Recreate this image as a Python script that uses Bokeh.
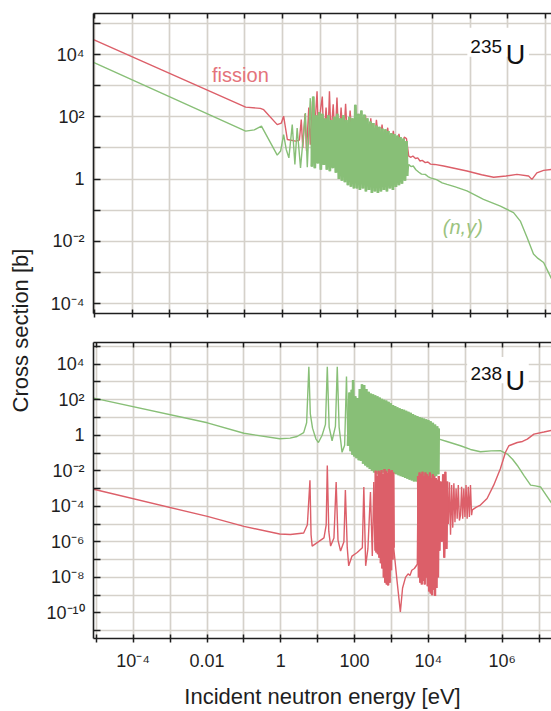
import numpy as np
from bokeh.plotting import figure
from bokeh.layouts import row, column
from bokeh.models import Range1d, FixedTicker, CustomJSTickFormatter, LogAxis
from bokeh.core.properties import value
from bokeh.embed import file_html
from bokeh.resources import INLINE

# ---------------- data: log10(energy / eV) and log10(cross section / b)
# U-235 fission
U235_FIS_PRE_LOGE = [-5.03, -0.98, -0.59, -0.50, -0.14, -0.03, 0.03, 0.13, 0.35, 0.45]
U235_FIS_PRE_LOGXS = [4.48, 2.31, 2.27, 2.23, 1.75, 1.80, 2.02, 1.27, 1.22, 1.25]
U235_FIS_RES_LOGE = [0.50, 0.54, 0.60, 0.64, 0.70, 0.74, 0.80, 0.84, 0.92, 0.96,
                     1.01, 1.06, 1.10, 1.16, 1.21, 1.25, 1.29, 1.35, 1.40, 1.45,
                     1.50, 1.56, 1.62, 1.68, 1.74, 1.80, 1.87, 1.94, 2.00, 2.07,
                     2.14, 2.21, 2.28, 2.35, 2.42, 2.50, 2.58, 2.65, 2.72, 2.80,
                     2.87, 2.95, 3.02, 3.10, 3.17, 3.24, 3.30]
U235_FIS_RES_LOGXS = [1.91, 1.0, 2.1, 0.9, 2.3, 1.1, 2.5, 1.2, 2.82, 1.3,
                      2.2, 2.65, 1.2, 2.3, 1.3, 2.82, 1.4, 2.4, 1.2, 2.62,
                      1.2, 2.3, 1.1, 2.42, 1.0, 2.2, 1.0, 2.32, 0.9, 2.1,
                      0.9, 2.05, 0.9, 1.95, 0.9, 1.9, 0.9, 1.75, 0.9, 1.65,
                      0.9, 1.55, 0.9, 1.45, 0.9, 1.35, 1.3]
U235_FIS_POST_LOGE = [3.36, 3.42, 3.47, 3.54, 3.60, 3.66, 3.72, 3.80, 3.87, 3.94,
                      4.05, 4.29, 4.60, 4.91, 5.30, 5.62, 5.95, 6.24, 6.55, 6.64, 6.77, 6.95, 7.16]
U235_FIS_POST_LOGXS = [0.74, 0.70, 0.74, 0.66, 0.68, 0.58, 0.60, 0.53, 0.55, 0.48,
                       0.47, 0.42, 0.34, 0.26, 0.14, 0.06, 0.10, 0.15, 0.10, -0.01, 0.20, 0.28, 0.31]

# U-235 radiative capture (n,gamma)
U235_CAP_PRE_LOGE = [-5.03, -0.98, -0.75, -0.56, -0.14, -0.05, 0.03, 0.10, 0.17, 0.26,
                     0.33, 0.39, 0.48, 0.61, 0.66, 0.74]
U235_CAP_PRE_LOGXS = [3.75, 1.54, 1.58, 1.70, 0.77, 0.90, 1.43, 0.95, 0.68, 1.75,
                      0.47, 1.64, 0.36, 2.12, 0.38, 2.6]
U235_CAP_RES_LOGE = [0.78, 0.82, 0.86, 0.90, 0.94, 0.98, 1.02, 1.06, 1.10, 1.14,
                     1.18, 1.22, 1.26, 1.30, 1.34, 1.38, 1.42, 1.46, 1.50, 1.54,
                     1.58, 1.62, 1.66, 1.70, 1.74, 1.78, 1.82, 1.86, 1.90, 1.94,
                     1.98, 2.02, 2.06, 2.10, 2.14, 2.18, 2.22, 2.26, 2.30, 2.34,
                     2.38, 2.42, 2.46, 2.50, 2.54, 2.58, 2.62, 2.66, 2.70, 2.74,
                     2.78, 2.82, 2.86, 2.90, 2.94, 2.98, 3.02, 3.06, 3.10, 3.14,
                     3.18, 3.22, 3.26, 3.30, 3.32]
U235_CAP_RES_LOGXS = [0.40, 2.65, 0.35, 2.05, 0.50, 2.15, 0.30, 2.10, 0.45, 1.95,
                      0.30, 2.05, 0.25, 1.90, 0.35, 2.00, 0.20, 2.10, 0.00, 1.95,
                      -0.05, 2.05, -0.10, 1.90, -0.20, 2.00, -0.25, 1.95, -0.30, 2.39,
                      -0.30, 2.10, -0.35, 2.20, -0.30, 2.07, -0.40, 1.95, -0.35, 1.85,
                      -0.45, 1.80, -0.40, 1.72, -0.45, 1.68, -0.40, 1.62, -0.35, 1.60,
                      -0.40, 1.54, -0.30, 1.48, -0.35, 1.45, -0.25, 1.40, -0.20, 1.35,
                      -0.15, 1.30, -0.05, 1.22, 0.10]
U235_CAP_POST_LOGE = [3.36, 3.42, 3.48, 3.55, 3.63, 3.70, 3.80, 3.87, 3.94, 4.10,
                      4.25, 4.38, 4.60, 4.91, 5.35, 5.80, 6.15, 6.33, 6.51, 6.68, 6.80, 6.95, 7.16]
U235_CAP_POST_LOGXS = [0.47, 0.40, 0.42, 0.30, 0.22, 0.16, 0.15, 0.08, 0.04, -0.02,
                       -0.12, -0.17, -0.25, -0.38, -0.65, -0.87, -1.08, -1.35, -1.88, -2.41, -2.55, -2.68, -3.2]

# U-238 radiative capture (n,gamma)
U238_CAP_PRE_LOGE = [-5.07, -1.99, -1.00, -0.03, 0.25, 0.44, 0.62, 0.70, 0.76, 0.80,
                     0.86, 0.95, 1.02, 1.12, 1.21, 1.26, 1.31, 1.39, 1.48, 1.53,
                     1.58, 1.66, 1.73, 1.78]
U238_CAP_PRE_LOGXS = [2.09, 0.70, 0.11, -0.20, -0.16, -0.07, 0.15, 0.70, 3.85, 1.20,
                      0.40, -0.20, -0.41, 0.00, 0.61, 3.85, 0.46, -0.31, 0.50, 3.85,
                      0.46, -0.96, -0.56, 3.30]
U238_CAP_RES_LOGE = [1.82, 1.86, 1.89, 1.92, 1.94, 1.96,
                     1.99, 2.02, 2.05, 2.08, 2.11, 2.14, 2.17, 2.20, 2.23, 2.26,
                     2.29, 2.32, 2.35, 2.38, 2.41, 2.44, 2.47, 2.50, 2.53, 2.56,
                     2.59, 2.62, 2.65, 2.68, 2.71, 2.74, 2.77, 2.80, 2.83, 2.86,
                     2.89, 2.92, 2.95, 2.98, 3.01, 3.04, 3.07, 3.10, 3.13, 3.16,
                     3.19, 3.22, 3.25, 3.28, 3.31, 3.34, 3.37, 3.40, 3.43, 3.46,
                     3.49, 3.52, 3.55, 3.58, 3.61, 3.64, 3.67, 3.70, 3.73, 3.76,
                     3.79, 3.82, 3.85, 3.88, 3.91, 3.94, 3.97, 4.00, 4.03, 4.06,
                     4.09, 4.12, 4.15, 4.18, 4.21, 4.24, 4.27, 4.28]
U238_CAP_RES_LOGXS = [-0.6, 2.4, -0.9, 2.56, -1.1, 3.11,
                      -1.2, 2.2, -1.3, 2.1, -1.4, 2.6, -1.45, 2.87, -1.6, 2.83,
                      -1.7, 2.6, -1.8, 2.45, -1.9, 2.35, -2.0, 2.3, -2.1, 2.25,
                      -2.15, 2.19, -2.2, 2.12, -2.15, 2.05, -2.1, 2.0, -2.1, 1.95,
                      -2.05, 1.88, -2.1, 1.8, -2.1, 1.7, -2.15, 1.65, -2.2, 1.58,
                      -2.25, 1.52, -2.3, 1.48, -2.35, 1.44, -2.4, 1.38, -2.45, 1.32,
                      -2.5, 1.26, -2.55, 1.2, -2.6, 1.12, -2.6, 1.08, -2.63, 1.02,
                      -2.6, 0.98, -2.55, 0.94, -2.5, 0.9, -2.45, 0.85, -2.45, 0.78,
                      -2.4, 0.7, -2.35, 0.6, -2.3, 0.5, -2.2, 0.38]
U238_CAP_POST_LOGE = [4.29, 4.50, 4.87, 5.14, 5.41, 5.70, 5.95, 6.14, 6.28, 6.41,
                      6.60, 6.77, 6.90, 7.04, 7.20, 7.34]
U238_CAP_POST_LOGXS = [-0.22, -0.35, -0.59, -0.80, -0.93, -0.88, -0.87, -1.06, -1.35, -1.70,
                       -2.30, -2.81, -2.85, -2.91, -3.40, -3.83]

# U-238 fission
U238_FIS_PRE_LOGE = [-5.07, -1.99, -1.00, -0.03, 0.26, 0.62, 0.72, 0.79, 0.82, 0.85,
                     1.17, 1.23, 1.26, 1.30, 1.35, 1.44, 1.50, 1.55, 1.62, 1.71,
                     1.75, 1.80, 1.84, 1.93, 2.07, 2.21, 2.25, 2.30, 2.36, 2.43,
                     2.48, 2.52, 2.55]
U238_FIS_PRE_LOGXS = [-3.04, -4.57, -5.13, -5.56, -5.59, -5.50, -5.04, -2.54, -5.60, -6.24,
                      -5.78, -5.04, -1.70, -5.40, -6.24, -5.78, -2.63, -5.90, -6.52, -6.00,
                      -3.09, -6.30, -7.35, -6.80, -6.60, -6.33, -2.91, -7.35, -6.40, -3.20,
                      -6.80, -2.63, -6.50]
U238_FIS_RES1_LOGE = [2.57, 2.59, 2.61, 2.63, 2.65, 2.67, 2.69, 2.71, 2.73, 2.75,
                      2.77, 2.79, 2.81, 2.83, 2.85, 2.87, 2.89, 2.91, 2.93, 2.95,
                      2.97, 2.99, 3.01, 3.03, 3.05, 3.06]
U238_FIS_RES1_LOGXS = [-2.0, -6.6, -2.3, -6.7, -2.0, -6.9, -2.1, -7.2, -1.95, -7.5,
                       -2.2, -8.0, -1.9, -8.3, -2.0, -8.4, -2.1, -8.45, -1.9, -8.3,
                       -2.0, -7.6, -1.95, -7.0, -2.1, -6.33]
U238_FIS_GAP_LOGE = [3.15, 3.24, 3.30, 3.38, 3.45, 3.50, 3.55, 3.62, 3.70]
U238_FIS_GAP_LOGXS = [-8.2, -9.94, -8.6, -8.0, -7.8, -7.9, -7.6, -7.5, -7.26]
U238_FIS_RES2_LOGE = [3.72, 3.74, 3.76, 3.78, 3.80, 3.82, 3.84, 3.86, 3.88, 3.90,
                      3.92, 3.94, 3.96, 3.98, 4.00, 4.02, 4.04, 4.06, 4.08, 4.10,
                      4.12, 4.14, 4.16, 4.18, 4.20, 4.22, 4.24, 4.26, 4.28,
                      4.30, 4.33, 4.36, 4.40, 4.43, 4.46, 4.49, 4.51]
U238_FIS_RES2_LOGXS = [-2.3, -8.0, -2.1, -8.3, -2.2, -8.4, -2.05, -8.2, -2.3, -8.4,
                       -2.1, -8.0, -2.2, -8.5, -2.3, -8.8, -2.1, -8.9, -2.4, -9.0,
                       -2.2, -8.7, -2.3, -9.05, -2.4, -8.6, -2.5, -8.0, -2.3,
                       -6.5, -2.6, -6.0, -2.2, -6.9, -2.06, -6.4, -2.6]
U238_FIS_RES3_LOGE = [4.54, 4.57, 4.60, 4.63, 4.66, 4.69, 4.72, 4.75, 4.78, 4.81,
                      4.84, 4.87, 4.90, 4.93, 4.96, 4.99, 5.02, 5.05, 5.08, 5.11,
                      5.14, 5.17, 5.19]
U238_FIS_RES3_LOGXS = [-5.0, -2.65, -5.6, -2.8, -5.2, -2.7, -4.9, -3.0, -4.7, -2.8,
                       -4.8, -4.5, -2.9, -4.7, -3.0, -4.6, -2.8, -4.7, -2.9, -4.6,
                       -2.8, -4.5, -4.2]
U238_FIS_POST_LOGE = [5.30, 5.41, 5.59, 5.77, 5.95, 6.09, 6.18, 6.41, 6.55, 6.68, 6.86, 7.13, 7.34]
U238_FIS_POST_LOGXS = [-4.05, -3.93, -3.56, -2.81, -1.89, -0.96, -0.59, -0.41, -0.35, -0.22, 0.06, 0.18, 0.28]

# tick labels
X_TICK_EXP = [-4, -2, 0, 2, 4, 6]
X_TICK_LABELS = ["10⁻⁴", "0.01", "1", "100", "10⁴", "10⁶"]
Y1_TICK_EXP = [4, 2, 0, -2, -4]
Y1_TICK_LABELS = ["10⁴", "10²", "1", "10⁻²", "10⁻⁴"]
Y2_TICK_EXP = [4, 2, 0, -2, -4, -6, -8, -10]
Y2_TICK_LABELS = ["10⁴", "10²", "1", "10⁻²", "10⁻⁴", "10⁻⁶", "10⁻⁸", "10⁻¹⁰"]

# ---------------- styling
FONT = "Liberation Sans"
RED = "#dc5f69"
GREEN = "#88bf77"
GRID = "#d5d1ca"
INK = "#1e1e1e"
LAB_W = 36
PANEL_W = 515


def cat(*parts):
    return 10.0 ** np.concatenate([np.asarray(p, dtype=float) for p in parts])


def label_formatter(exps, labels):
    return CustomJSTickFormatter(args=dict(exps=exps, labels=labels), code="""
        const e = Math.round(Math.log10(tick));
        const i = exps.indexOf(e);
        return i >= 0 ? labels[i] : "";
    """)


def blank_formatter():
    return CustomJSTickFormatter(code='return "";')


def panel(xlim, ylim, ydec, height, b_top, b_bottom, ylab_exp, ylab_txt, show_x):
    p = figure(width=PANEL_W, height=height, x_axis_type="log", y_axis_type="log",
               x_range=Range1d(10 ** xlim[0], 10 ** xlim[1]),
               y_range=Range1d(10 ** ylim[0], 10 ** ylim[1]),
               output_backend="svg", toolbar_location=None,
               min_border_left=57, min_border_right=0,
               min_border_top=b_top, min_border_bottom=b_bottom)
    p.outline_line_color = None
    p.background_fill_color = "white"
    xt = FixedTicker(ticks=[10.0 ** k for k in range(-5, 8)], minor_ticks=[])
    yt = FixedTicker(ticks=[10.0 ** k for k in ydec], minor_ticks=[])
    p.xaxis.ticker = xt
    p.yaxis.ticker = yt
    p.xgrid.ticker = xt
    p.ygrid.ticker = yt
    p.grid.grid_line_color = GRID
    p.grid.grid_line_width = 1.7

    for ax in p.axis:
        ax.axis_line_color = INK
        ax.axis_line_width = 1.6
        ax.major_tick_line_color = INK
        ax.major_tick_line_width = 1.5
        ax.minor_tick_in = 0
        ax.minor_tick_out = 0
        ax.major_label_text_font = FONT
        ax.major_label_text_font_size = "18px"
        ax.major_label_text_color = INK

    p.yaxis.major_tick_in = 7
    p.yaxis.major_tick_out = 0
    p.yaxis.major_label_standoff = 9
    p.yaxis.formatter = label_formatter(ylab_exp, ylab_txt)

    p.xaxis.major_tick_in = 4
    p.xaxis.major_tick_out = 4
    if show_x:
        p.xaxis.formatter = label_formatter(X_TICK_EXP, X_TICK_LABELS)
        p.xaxis.major_label_standoff = 8
        p.xaxis.axis_label = "Incident neutron energy [eV]"
        p.xaxis.axis_label_text_font = FONT
        p.xaxis.axis_label_text_font_size = "22px"
        p.xaxis.axis_label_text_font_style = "normal"
        p.xaxis.axis_label_text_color = INK
        p.xaxis.axis_label_standoff = 10
    else:
        p.xaxis.formatter = blank_formatter()
        p.xaxis.major_label_text_font_size = "1px"
        p.xaxis.major_label_standoff = 0

    top_ax = LogAxis(ticker=xt, formatter=blank_formatter(), major_tick_in=5, major_tick_out=0,
                     major_label_text_font_size="1px", major_label_standoff=0,
                     axis_line_color=INK, axis_line_width=1.6,
                     major_tick_line_color=INK, major_tick_line_width=1.5,
                     minor_tick_in=0, minor_tick_out=0)
    p.add_layout(top_ax, "above")
    return p


# ---------------- top panel: U-235
p1 = panel((-5.03, 7.16), (-4.32, 5.32), range(-4, 6), 328, 13, 15,
           Y1_TICK_EXP, Y1_TICK_LABELS, False)
p1.line(cat(U235_FIS_PRE_LOGE, U235_FIS_RES_LOGE, U235_FIS_POST_LOGE),
        cat(U235_FIS_PRE_LOGXS, U235_FIS_RES_LOGXS, U235_FIS_POST_LOGXS),
        line_color=RED, line_width=1.4)
p1.line(cat(U235_CAP_PRE_LOGE, U235_CAP_RES_LOGE, U235_CAP_POST_LOGE),
        cat(U235_CAP_PRE_LOGXS, U235_CAP_RES_LOGXS, U235_CAP_POST_LOGXS),
        line_color=GREEN, line_width=1.4)
p1.line(cat(U235_CAP_RES_LOGE), cat(U235_CAP_RES_LOGXS), line_color=GREEN, line_width=2.8)
p1.text(x=[10 ** -1.12], y=[10 ** 3.35], text=["fission"], text_font=value(FONT),
        text_font_size="20px", text_color="#e4737b", text_align="center", text_baseline="middle")
p1.text(x=[10 ** 4.80], y=[10 ** -1.54], text=["(n,γ)"], text_font=value(FONT),
        text_font_size="20px", text_font_style="italic", text_color="#9cc37f",
        text_align="center", text_baseline="middle")
p1.quad(left=[10 ** 4.92], right=[10 ** 6.56], bottom=[10 ** 3.93], top=[10 ** 4.86],
        fill_color="white", line_color=None)
p1.text(x=[10 ** 5.00], y=[10 ** 4.26], text=["235"], text_font=value(FONT),
        text_font_size="19px", text_color="#111111", text_align="left", text_baseline="alphabetic")
p1.text(x=[10 ** 5.94], y=[10 ** 4.00], text=["U"], text_font=value(FONT),
        text_font_size="27px", text_color="#111111", text_align="left", text_baseline="alphabetic")

# ---------------- bottom panel: U-238
p2 = panel((-5.076, 7.336), (-11.44, 5.22), range(-11, 6), 383, 14, 68,
           Y2_TICK_EXP, Y2_TICK_LABELS, True)
p2.line(cat(U238_CAP_PRE_LOGE, U238_CAP_RES_LOGE, U238_CAP_POST_LOGE),
        cat(U238_CAP_PRE_LOGXS, U238_CAP_RES_LOGXS, U238_CAP_POST_LOGXS),
        line_color=GREEN, line_width=1.4)
p2.line(cat(U238_CAP_RES_LOGE), cat(U238_CAP_RES_LOGXS), line_color=GREEN, line_width=2.6)
p2.line(cat(U238_FIS_PRE_LOGE, U238_FIS_RES1_LOGE, U238_FIS_GAP_LOGE, U238_FIS_RES2_LOGE,
            U238_FIS_RES3_LOGE, U238_FIS_POST_LOGE),
        cat(U238_FIS_PRE_LOGXS, U238_FIS_RES1_LOGXS, U238_FIS_GAP_LOGXS, U238_FIS_RES2_LOGXS,
            U238_FIS_RES3_LOGXS, U238_FIS_POST_LOGXS),
        line_color=RED, line_width=1.4)
p2.line(cat(U238_FIS_RES1_LOGE), cat(U238_FIS_RES1_LOGXS), line_color=RED, line_width=2.4)
p2.line(cat(U238_FIS_RES2_LOGE), cat(U238_FIS_RES2_LOGXS), line_color=RED, line_width=2.4)
p2.quad(left=[10 ** 5.05], right=[10 ** 6.72], bottom=[10 ** 2.93], top=[10 ** 4.41],
        fill_color="white", line_color=None)
p2.text(x=[10 ** 5.14], y=[10 ** 3.48], text=["238"], text_font=value(FONT),
        text_font_size="19px", text_color="#111111", text_align="left", text_baseline="alphabetic")
p2.text(x=[10 ** 6.09], y=[10 ** 3.08], text=["U"], text_font=value(FONT),
        text_font_size="27px", text_color="#111111", text_align="left", text_baseline="alphabetic")

# ---------------- shared y-axis title
TOTAL_H = 328 + 383
lab = figure(width=LAB_W, height=TOTAL_H, x_range=Range1d(0, LAB_W), y_range=Range1d(0, TOTAL_H),
             output_backend="svg", toolbar_location=None, min_border=0,
             x_axis_location=None, y_axis_location=None)
lab.grid.visible = False
lab.outline_line_color = None
lab.text(x=[20], y=[TOTAL_H - 330], text=["Cross section [b]"], angle=np.pi / 2,
         text_font=value(FONT), text_font_size="22px", text_color=INK,
         text_align="center", text_baseline="alphabetic")

layout = row(lab, column(p1, p2))
open("out.html", "w").write(file_html(layout, INLINE))
